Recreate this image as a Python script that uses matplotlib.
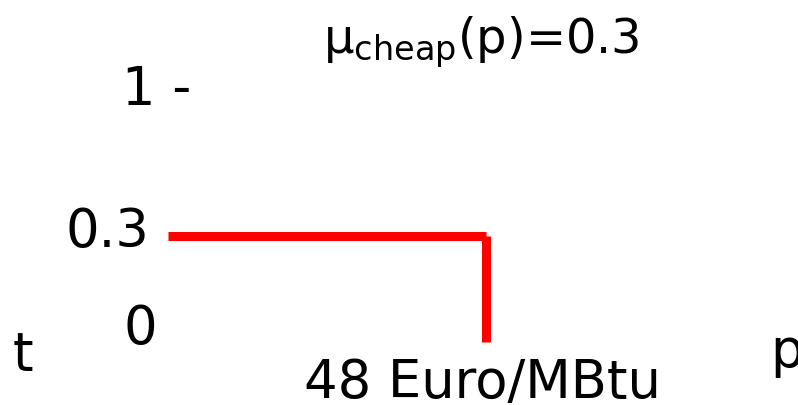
import matplotlib
matplotlib.use("Agg")
import matplotlib.pyplot as plt

# membership function mu_cheap(p): 0.3 up to the cut price, then 0
price_points = [0, 48, 48]
mu_points = [0.3, 0.3, 0.0]
y_tick_labels = ["1 -", "0.3", "0"]

W, H = 798, 405
fig = plt.figure(figsize=(W / 100, H / 100), dpi=100)
fig.patch.set_facecolor("white")


def fx(px):
    return px / W


def fy(py):
    return 1 - py / H


# axes spans p in [0, 48] and mu in [0, 0.3]
ax = fig.add_axes([fx(168), fy(341.7), fx(486 - 168), (341.7 - 236.2) / H])
ax.set_xlim(0, price_points[1])
ax.set_ylim(0, mu_points[0])
ax.axis("off")

red = "#ff0000"
ax.plot(price_points[:2], mu_points[:2], color=red, lw=6.5,
        solid_capstyle="butt", clip_on=False)
ax.plot(price_points[1:], mu_points[1:], color=red, lw=6.5,
        solid_capstyle="butt", clip_on=False)

fs = 38
fig.text(fx(481), fy(53), "μ$_{\\mathrm{cheap}}$(p)=0.3", fontsize=34.5,
         ha="center", va="baseline")
fig.text(fx(122), fy(105), y_tick_labels[0], fontsize=fs, ha="left", va="baseline")
fig.text(fx(149), fy(247), y_tick_labels[1], fontsize=fs, ha="right", va="baseline")
fig.text(fx(157), fy(344), y_tick_labels[2], fontsize=fs, ha="right", va="baseline")
fig.text(fx(13), fy(370), "t", fontsize=fs, ha="left", va="baseline")
fig.text(fx(304), fy(398), "48 Euro/MBtu", fontsize=fs, ha="left", va="baseline")
fig.text(fx(770), fy(367), "p", fontsize=fs, ha="left", va="baseline")

fig.savefig("out.png", dpi=100, facecolor="white")
